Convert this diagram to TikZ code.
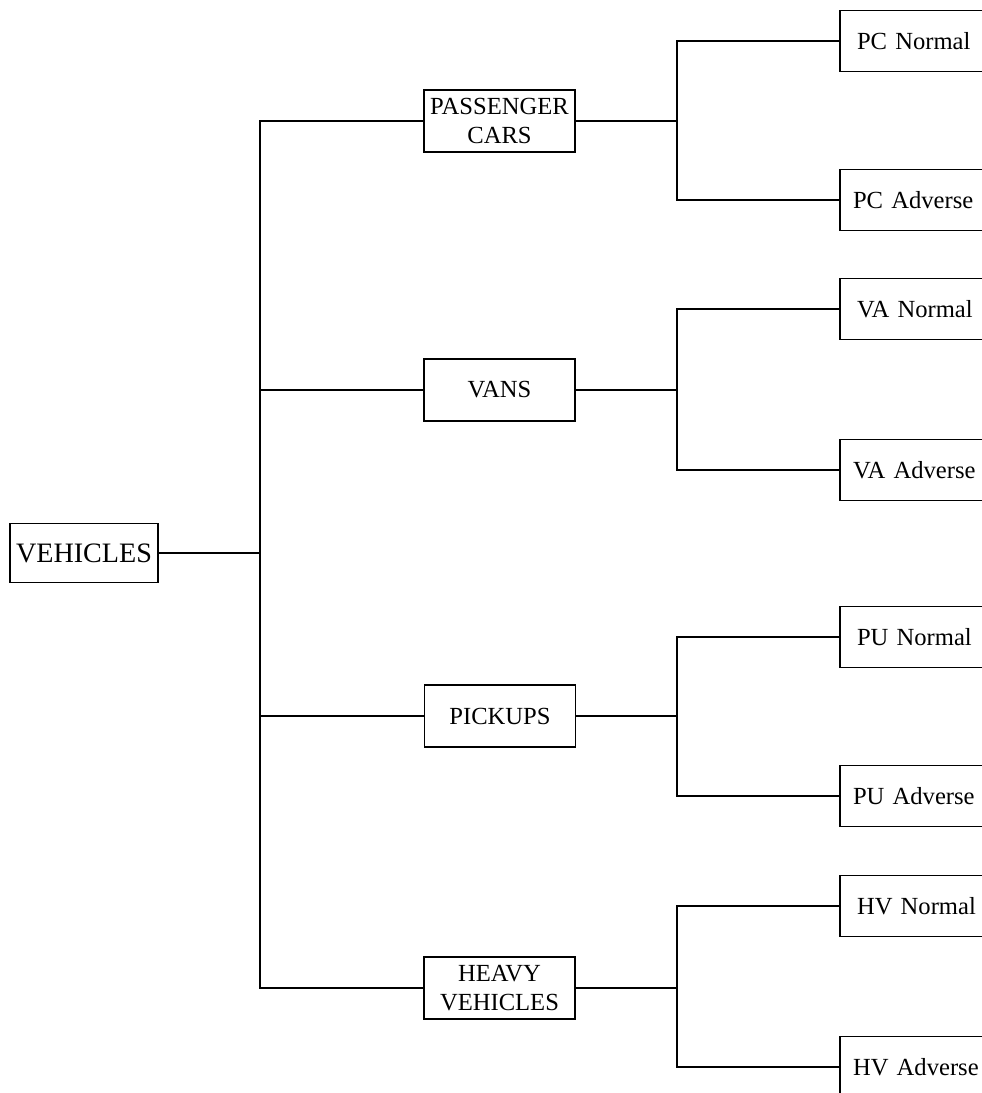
\documentclass[tikz,border=0pt]{standalone}
\usepackage{fontspec}
\setmainfont{Liberation Serif}

\begin{document}
\begin{tikzpicture}[
		x=0.02cm, y=-0.02cm,
		line/.style={black, line width=1.1pt},
		box/.style={draw, line width=1.1pt, fill=white, inner sep=0pt, font=\fontsize{14}{16.5}\selectfont, align=center},
		midbox/.style={box, minimum width=3.02cm, minimum height=1.24cm},
		leafbox/.style={box, minimum width=3cm, minimum height=1.22cm, text width=2.8cm, align=left}
		]
		
		\useasboundingbox (0,0) rectangle (982,1093);
		\clip (0,0) rectangle (982,1093);
		
		% 分叉点
		\coordinate (trunk) at (260,553);
		\coordinate (pcj) at (677,121);
		\coordinate (vaj) at (677,390);
		\coordinate (puj) at (677,716);
		\coordinate (hvj) at (677,988);
		
		% 根
		\node[box, minimum width=2.96cm, minimum height=1.18cm, font=\fontsize{16}{18}\selectfont] (veh) at (84,553) {VEHICLES};
		
		% 车型
		\node[midbox] (pc) at (499.5,121) {PASSENGER\\CARS};
		\node[midbox] (va) at (499.5,390) {VANS};
		\node[midbox] (pu) at (500,716) {PICKUPS};
		\node[midbox] (hv) at (499.5,988) {HEAVY\\VEHICLES};
		
		% 路况
		\node[leafbox] (pcn) at (915,41) {\hspace*{0.24cm}PC Normal};
		\node[leafbox] (pca) at (915,200) {\hspace*{0.16cm}PC Adverse};
		\node[leafbox] (van) at (915,309) {\hspace*{0.24cm}VA Normal};
		\node[leafbox] (vaa) at (915,470) {\hspace*{0.16cm}VA Adverse};
		\node[leafbox] (pun) at (915,637) {\hspace*{0.24cm}PU Normal};
		\node[leafbox] (pua) at (915,796) {\hspace*{0.16cm}PU Adverse};
		\node[leafbox] (hvn) at (915,906) {\hspace*{0.24cm}HV Normal};
		\node[leafbox] (hva) at (915,1067) {\hspace*{0.16cm}HV Adverse};
		
		% 连线
		\draw[line] (veh.east) -- (trunk);
		\draw[line] (pc.west) -| (trunk) |- (hv.west);
		\draw[line] (va.west) -| (trunk);
		\draw[line] (pu.west) -| (trunk);
		
		\draw[line] (pc.east) -- (pcj);
		\draw[line] (pcn.west) -| (pcj) |- (pca.west);
		\draw[line] (va.east) -- (vaj);
		\draw[line] (van.west) -| (vaj) |- (vaa.west);
		\draw[line] (pu.east) -- (puj);
		\draw[line] (pun.west) -| (puj) |- (pua.west);
		\draw[line] (hv.east) -- (hvj);
		\draw[line] (hvn.west) -| (hvj) |- (hva.west);
		
	\end{tikzpicture}
\end{document}
